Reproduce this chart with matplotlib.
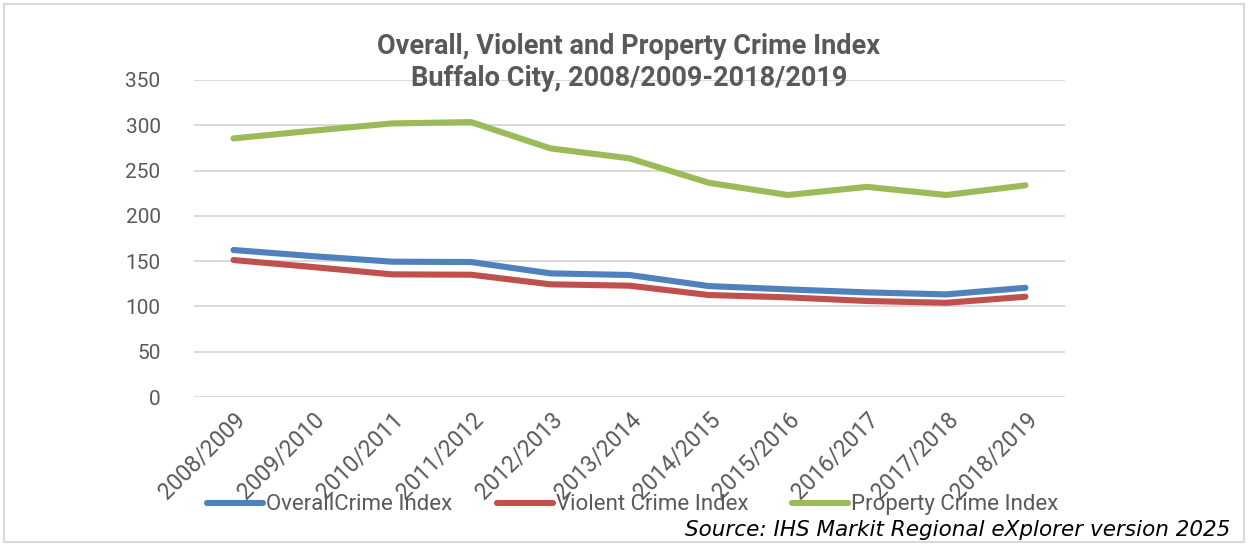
import matplotlib

matplotlib.use("Agg")

import matplotlib.pyplot as plt
from matplotlib.lines import Line2D
from matplotlib.patches import Rectangle

years = [
    "2008/2009", "2009/2010", "2010/2011", "2011/2012", "2012/2013", "2013/2014",
    "2014/2015", "2015/2016", "2016/2017", "2017/2018", "2018/2019",
]
overall = [162.3, 155.5, 149.4, 149.0, 136.5, 134.7, 122.5, 118.8, 115.5, 113.3, 120.6]
violent = [151.2, 143.5, 135.4, 135.0, 124.4, 122.9, 112.6, 110.0, 106.0, 104.0, 110.7]
property_ = [285.5, 294.0, 302.0, 303.5, 274.5, 263.5, 236.5, 223.0, 232.0, 223.0, 233.7]
y_ticks = [0, 50, 100, 150, 200, 250, 300, 350]

series = [
    ("OverallCrime Index", overall, "#4F81BD"),
    ("Violent Crime Index", violent, "#C0504D"),
    ("Property Crime Index", property_, "#9BBB59"),
]

plt.rcParams["font.family"] = ["Roboto", "DejaVu Sans"]
text_grey = "#595959"

fig = plt.figure(figsize=(12.48, 5.44), dpi=100)
ax = fig.add_axes([0.1554, 0.2702, 0.698, 0.5828])

x = range(len(years))
for name, values, color in series:
    ax.plot(x, values, color=color, linewidth=4.4, solid_capstyle="round", label=name)

ax.set_xlim(-0.5, len(years) - 0.5)
ax.set_ylim(0, 350)
ax.set_yticks(y_ticks)
ax.set_xticks(list(x))
ax.set_xticklabels(years, rotation=45, ha="right", va="top", rotation_mode="anchor")
ax.tick_params(axis="y", length=0, labelsize=15, labelcolor=text_grey, pad=24)
ax.tick_params(axis="x", length=0, labelsize=16.5, labelcolor=text_grey, pad=8)
ax.grid(axis="y", color="#D9D9D9", linewidth=1.4)
ax.set_axisbelow(True)
for spine in ax.spines.values():
    spine.set_visible(False)

fig.text(0.504, 0.915, "Overall, Violent and Property Crime Index", ha="center", va="center",
         fontsize=19.5, fontweight="bold", color=text_grey)
fig.text(0.504, 0.855, "Buffalo City, 2008/2009-2018/2019", ha="center", va="center",
         fontsize=19.5, fontweight="bold", color=text_grey)

# Excel places the legend entries unevenly, so each one is placed on its own
legend_left = [207 / 1248, 497 / 1248, 792 / 1248]
for (name, values, color), left in zip(series, legend_left):
    handle = Line2D([], [], color=color, linewidth=4.4, solid_capstyle="round")
    fig.legend([handle], [name], loc="center left", bbox_to_anchor=(left, 0.072),
               frameon=False, fontsize=16, labelcolor=text_grey, handlelength=2.5,
               handletextpad=0.15, borderpad=0, borderaxespad=0)

fig.text(0.986, 0.025, "Source: IHS Markit Regional eXplorer version 2025", ha="right",
         va="center", fontsize=15.5, fontstyle="italic", family="DejaVu Sans", color="black")

fig.patches.append(Rectangle((0.003, 0.003), 0.994, 0.99, transform=fig.transFigure,
                             fill=False, edgecolor="#D9D9D9", linewidth=1.5))

fig.savefig("out.png", dpi=100)
